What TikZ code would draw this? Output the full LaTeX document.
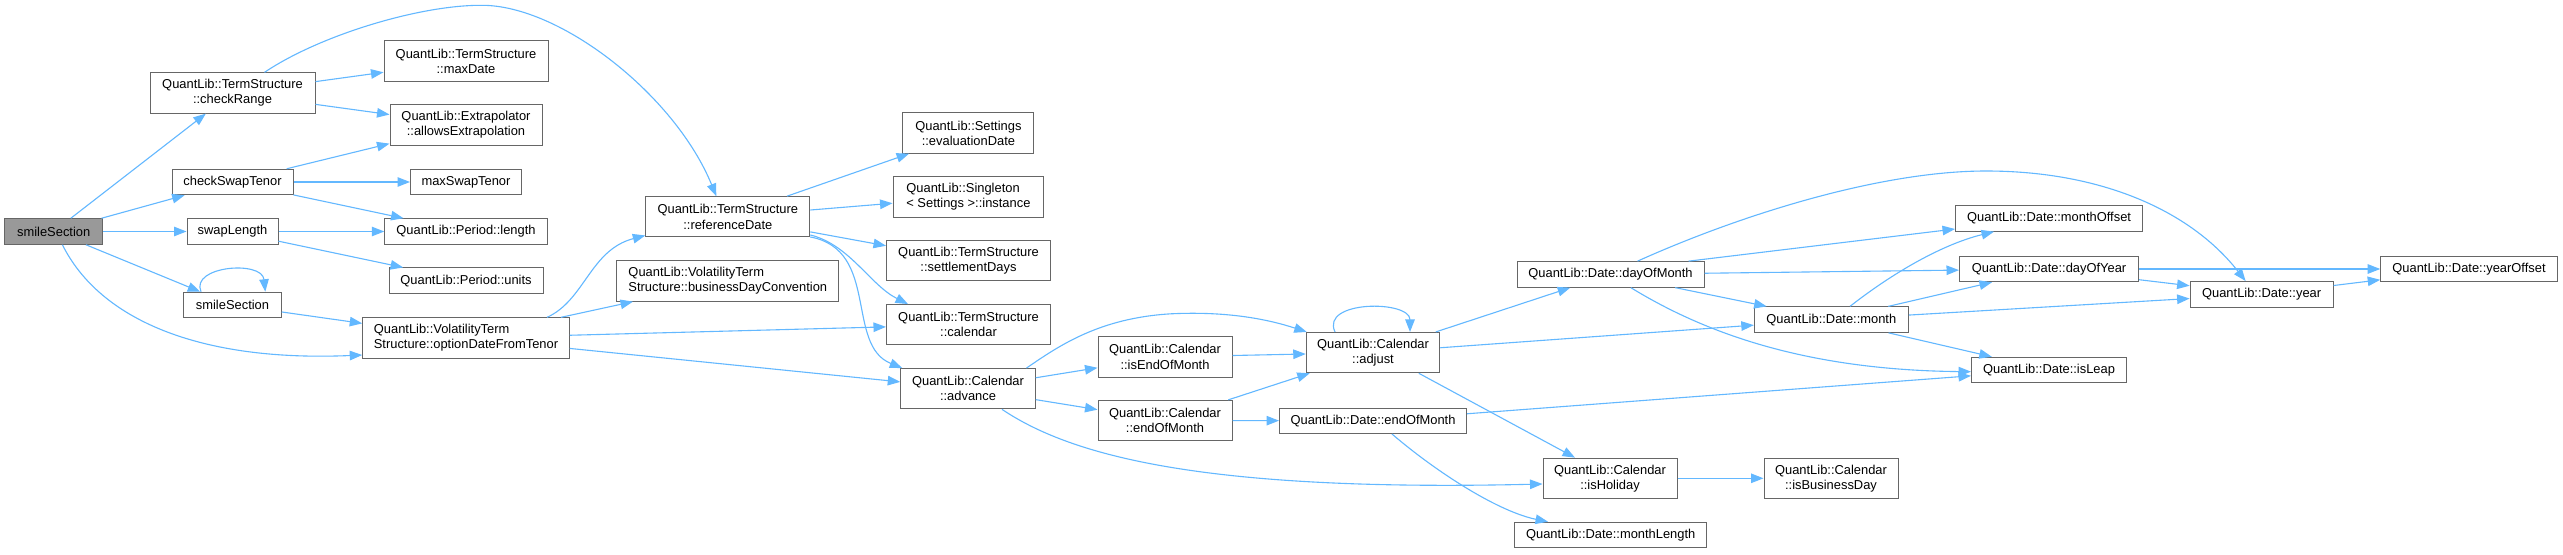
\documentclass[tikz,border=0pt]{standalone}
\usepackage{fontspec}
\setmainfont{Liberation Sans}
\usetikzlibrary{arrows.meta,calc}
\definecolor{edgeblue}{HTML}{63B8FF}
\definecolor{boxgray}{HTML}{666666}
\definecolor{rootfill}{HTML}{999999}
\tikzset{
 fn/.style={draw=boxgray, line width=1pt, fill=white, inner sep=0pt, align=center,
   font=\fontsize{12.9}{15.2}\selectfont, text=black},
 one/.style={minimum height=25.5pt},
 two/.style={minimum height=40.3pt},
 call/.style={draw=edgeblue, line width=1.1pt, -{Triangle[length=12.5pt,width=9.5pt]}},
}
\begin{document}
\begin{tikzpicture}[x=1pt,y=-1pt]
\fill[white] (0,0) rectangle (2563,554);
\useasboundingbox (0,0) rectangle (2563,554);
% nodes
\node[fn,one,fill=rootfill,minimum width=98pt] (root) at (53.7,231.5) {smileSection};
\node[fn,two,minimum width=165pt] (checkRange) at (232.5,93) {QuantLib::TermStructure\\::checkRange};
\node[fn,two,minimum width=164pt] (maxDate) at (466,61) {QuantLib::TermStructure\\::maxDate};
\node[fn,two,minimum width=152pt] (allowsExtrap) at (466,125) {QuantLib::Extrapolator\\::allowsExtrapolation};
\node[fn,one,minimum width=121pt] (checkSwapTenor) at (232.5,182) {checkSwapTenor};
\node[fn,one,minimum width=111pt] (maxSwapTenor) at (466,182) {maxSwapTenor};
\node[fn,one,minimum width=162.5pt] (periodLength) at (466,231.5) {QuantLib::Period::length};
\node[fn,one,minimum width=91pt] (swapLength) at (232.5,231.5) {swapLength};
\node[fn,one,minimum width=154pt] (periodUnits) at (466,280.7) {QuantLib::Period::units};
\node[fn,one,minimum width=97.5pt] (smile2) at (232.5,305) {smileSection};
\node[fn,two,minimum width=206.5pt,align=left] (optionDate) at (466,338) {QuantLib::VolatilityTerm\\Structure::optionDateFromTenor};
\node[fn,two,minimum width=164pt] (refDate) at (727.8,216.8) {QuantLib::TermStructure\\::referenceDate};
\node[fn,two,minimum width=222pt,align=left] (bdc) at (727.8,281) {QuantLib::VolatilityTerm\\Structure::businessDayConvention};
\node[fn,two,minimum width=131pt] (evalDate) at (968.4,133) {QuantLib::Settings\\::evaluationDate};
\node[fn,two,minimum width=150.7pt,align=left] (singleton) at (968.4,197) {QuantLib::Singleton\\< Settings >::instance};
\node[fn,two,minimum width=164pt] (settlementDays) at (968.5,260.8) {QuantLib::TermStructure\\::settlementDays};
\node[fn,two,minimum width=164pt] (calendar) at (968.5,324.7) {QuantLib::TermStructure\\::calendar};
\node[fn,two,minimum width=134.5pt] (advance) at (968,388.7) {QuantLib::Calendar\\::advance};
\node[fn,two,minimum width=134pt] (isEndOfMonth) at (1165,356.9) {QuantLib::Calendar\\::isEndOfMonth};
\node[fn,two,minimum width=134pt] (calEndOfMonth) at (1165,420.5) {QuantLib::Calendar\\::endOfMonth};
\node[fn,two,minimum width=133.5pt] (adjust) at (1373,352.6) {QuantLib::Calendar\\::adjust};
\node[fn,one,minimum width=187pt] (dateEndOfMonth) at (1373,420.8) {QuantLib::Date::endOfMonth};
\node[fn,one,minimum width=187pt] (dayOfMonth) at (1610.5,274.4) {QuantLib::Date::dayOfMonth};
\node[fn,one,minimum width=154pt] (month) at (1831.3,319.6) {QuantLib::Date::month};
\node[fn,two,minimum width=134pt] (isHoliday) at (1610,478.3) {QuantLib::Calendar\\::isHoliday};
\node[fn,two,minimum width=134pt] (isBusinessDay) at (1831,478.3) {QuantLib::Calendar\\::isBusinessDay};
\node[fn,one,minimum width=192pt] (monthLength) at (1610.7,535) {QuantLib::Date::monthLength};
\node[fn,one,minimum width=187pt] (monthOffset) at (2049,218.4) {QuantLib::Date::monthOffset};
\node[fn,one,minimum width=179pt] (dayOfYear) at (2049,269) {QuantLib::Date::dayOfYear};
\node[fn,one,minimum width=143pt] (year) at (2261.6,294.3) {QuantLib::Date::year};
\node[fn,one,minimum width=176.6pt] (yearOffset) at (2469,269) {QuantLib::Date::yearOffset};
\node[fn,one,minimum width=155pt] (isLeap) at (2049,370) {QuantLib::Date::isLeap};
% straight edges
\draw[call] (root) -- (checkRange);
\draw[call] (root) -- (checkSwapTenor);
\draw[call] (root) -- (swapLength);
\draw[call] (root) -- (smile2);
\draw[call] (checkRange) -- (maxDate);
\draw[call] (checkRange) -- (allowsExtrap);
\draw[call] (checkSwapTenor) -- (allowsExtrap);
\draw[call] (checkSwapTenor) -- (maxSwapTenor);
\draw[call] (checkSwapTenor) -- (periodLength);
\draw[call] (swapLength) -- (periodLength);
\draw[call] (swapLength) -- (periodUnits);
\draw[call] (smile2) -- (optionDate);
\draw[call] (optionDate) -- (bdc);
\draw[call] (optionDate) -- (calendar);
\draw[call] (optionDate) -- (advance);
\draw[call] (refDate) -- (evalDate);
\draw[call] (refDate) -- (singleton);
\draw[call] (refDate) -- (settlementDays);
\draw[call] (advance) -- (isEndOfMonth);
\draw[call] (advance) -- (calEndOfMonth);
\draw[call] (isEndOfMonth) -- (adjust);
\draw[call] (calEndOfMonth) -- (adjust);
\draw[call] (calEndOfMonth) -- (dateEndOfMonth);
\draw[call] (adjust) -- (dayOfMonth);
\draw[call] (adjust) -- (month);
\draw[call] (dateEndOfMonth) -- (isLeap);
\draw[call] (dayOfMonth) -- (dayOfYear);
\draw[call] (dayOfMonth) -- (month);
\draw[call] (month) -- (dayOfYear);
\draw[call] (month) -- (year);
\draw[call] (month) -- (isLeap);
\draw[call] (dayOfYear) -- (yearOffset);
\draw[call] (dayOfYear) -- (year);
\draw[call] (year) -- (yearOffset);
\draw[call] (isHoliday) -- (isBusinessDay);
\draw[call] ([xshift=45.75pt]adjust.south) -- ([xshift=-35pt]isHoliday.north);
\draw[call] ([xshift=78pt]dayOfMonth.north) -- ([yshift=-10.6pt]monthOffset.west);
% curved edges
\draw[call] ([xshift=8.7pt]root.south) .. controls (100,320) and (200,362) .. ([yshift=-17pt]optionDate.west);
\draw[call] ([xshift=32pt]checkRange.north) .. controls (320,35) and (420,5) .. (481.6,5.3) .. controls (560,5) and (675,95) .. ([xshift=-11.5pt]refDate.north);
\draw[call] ([xshift=-31.5pt]smile2.north) .. controls (190,266) and (262,260) .. ([xshift=32.8pt]smile2.north);
\draw[call] ([xshift=81pt]optionDate.north) .. controls (585,300) and (590,250) .. ([yshift=2pt]refDate.south west);
\draw[call] ([yshift=2.5pt]refDate.south east) .. controls (850,245) and (870,285) .. ([xshift=-60.5pt]calendar.north);
\draw[call] ([yshift=0.5pt]refDate.south east) .. controls (880,250) and (845,345) .. ([xshift=2pt]advance.north west);
\draw[call] ([xshift=58.5pt]advance.north) .. controls (1060,345) and (1100,318) .. (1171,313.8) .. controls (1230,311) and (1270,320) .. ([xshift=1pt]adjust.north west);
\draw[call] ([xshift=34pt]advance.south) .. controls (1070,455) and (1200,492) .. ([yshift=-5.7pt]isHoliday.west);
\draw[call] ([xshift=-38pt]adjust.north) .. controls (1320,300) and (1410,300) .. ([xshift=37pt]adjust.north);
\draw[call] ([xshift=19pt]dateEndOfMonth.south) .. controls (1440,475) and (1500,512) .. ([xshift=-62.7pt]monthLength.north);
\draw[call] ([xshift=27pt]dayOfMonth.north) .. controls (1740,215) and (1880,171) .. (1986,171) .. controls (2100,171) and (2190,210) .. ([xshift=-16pt]year.north);
\draw[call] ([xshift=20.3pt]dayOfMonth.south) .. controls (1700,330) and (1800,370) .. ([yshift=-1.7pt]isLeap.west);
\draw[call] ([xshift=18.7pt]month.north) .. controls (1890,275) and (1940,245) .. ([xshift=-55pt]monthOffset.south);
\end{tikzpicture}
\end{document}
